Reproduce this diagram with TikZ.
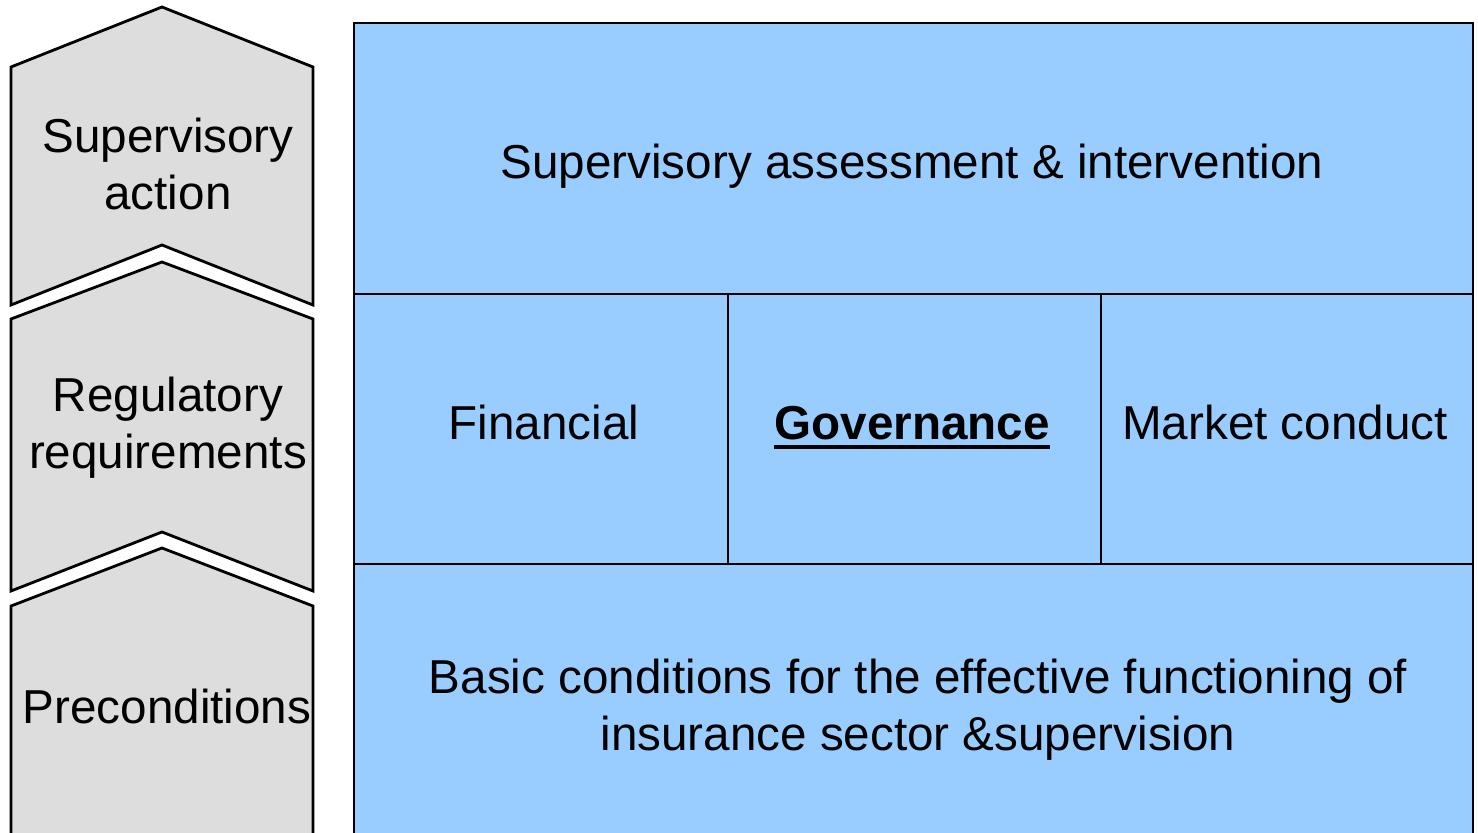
\documentclass[tikz,border=0pt]{standalone}
\usepackage{fontspec}
\setmainfont{Liberation Sans}
\definecolor{chevgray}{RGB}{221,221,221}
\definecolor{pillarblue}{RGB}{153,204,255}
\tikzset{
  chevron/.style={fill=chevgray,draw=black,line width=1.4pt,line join=miter},
  pillar/.style={fill=pillarblue,draw=black,line width=1.4pt},
  boxtext/.style={inner sep=0pt,outer sep=0pt,align=center,text=black,font=\fontsize{23.8}{28.6}\selectfont},
}
% heavy underline, as the bold heading uses
\newcommand\heavyul[1]{\vtop{\hbox{#1}\kern2.4pt\hrule height 2pt}}
\begin{document}
\begin{tikzpicture}[x=.5pt,y=-.5pt]
\path[use as bounding box] (0,0) rectangle (1478,833);
\clip (0,0) rectangle (1478,833);
\path[fill=white,draw=none] (0,0) rectangle (1478,833);
% stacked chevrons on the left
\path[chevron] (11,67) -- (162,7) -- (313,67) -- (313,305) -- (162,245) -- (11,305) -- cycle;
\path[chevron] (11,319) -- (162,262) -- (313,319) -- (313,591) -- (162,532) -- (11,591) -- cycle;
\path[chevron] (11,606) -- (162,548) -- (313,606) -- (313,860) -- (11,860) -- cycle;
\node[boxtext] (sup) at (168,164) {Supervisory\\action};
\node[boxtext] (reg) at (168,428) {Regulatory\\requirements};
\node[boxtext] (pre) at (167,706) {Preconditions};
% the framework block
\path[pillar] (354,23) rectangle (1473,294);
\path[pillar] (354,294) rectangle (728,564);
\path[pillar] (728,294) rectangle (1101,564);
\path[pillar] (1101,294) rectangle (1473,564);
\path[pillar] (354,564) rectangle (1473,860);
\node[boxtext] (assess) at (912,166) {Supervisory assessment \& intervention};
\node[boxtext,anchor=base] (fin) at (544,440) {Financial};
\node[boxtext,anchor=base] (gov) at (912,440) {\heavyul{\bfseries Governance}};
\node[boxtext,anchor=base] (mkt) at (1285,440) {Market conduct};
\node[boxtext] (basic) at (918,710) {Basic conditions for the effective functioning of\\insurance sector \&supervision};
\end{tikzpicture}
\end{document}
